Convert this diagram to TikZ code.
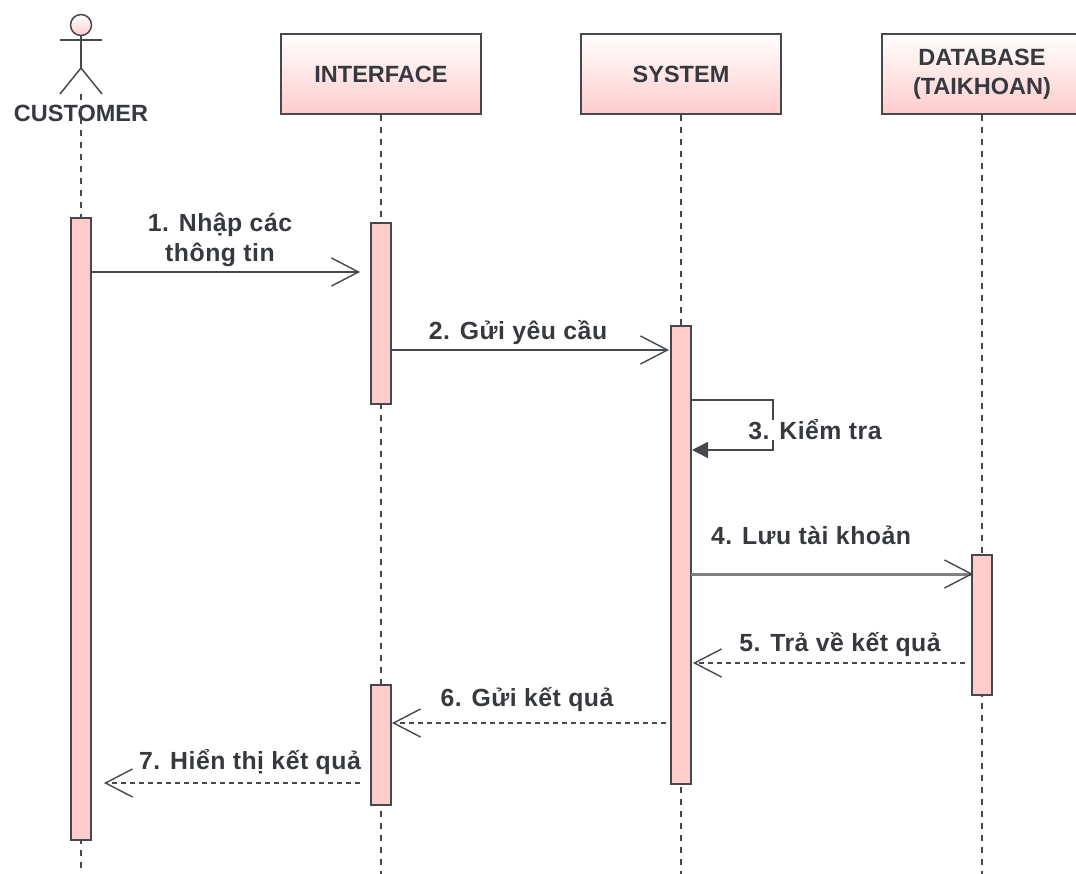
\documentclass[tikz,border=0pt]{standalone}
\usepackage{fontspec}
\setmainfont{Liberation Sans}
\newfontfamily\msgfont[LetterSpace=2]{Liberation Sans}
\usetikzlibrary{arrows.meta}
\definecolor{barpink}{HTML}{FFCCCC}
\definecolor{linegray}{HTML}{45484D}
\definecolor{textgray}{HTML}{36393D}
\tikzset{
	label_text/.style={text=textgray,font=\bfseries\fontsize{23.5}{29}\selectfont,align=center,inner sep=0pt},
	msg_text/.style={text=textgray,font=\msgfont\bfseries\fontsize{24.8}{30}\selectfont,align=center,inner sep=0pt},
	head_box/.style={rectangle,draw=linegray,line width=1.6pt,top color=white,bottom color=barpink,minimum width=200pt,minimum height=80pt,inner sep=0pt,label_text},
	act_bar/.style={rectangle,draw=linegray,line width=1.6pt,fill=barpink,minimum width=20pt,inner sep=0pt},
	life_line/.style={draw=linegray,line width=1.3pt,dash pattern=on 6pt off 6pt},
	msg_call/.style={draw=linegray,line width=1.6pt,-{Straight Barb[length=27pt,width=28pt,line width=1.4pt,color=linegray]}},
	msg_ret/.style={draw=linegray,line width=1.1pt,dash pattern=on 5pt off 4pt,-{Straight Barb[length=27pt,width=28pt,line width=1.4pt]}}
}
\begin{document}
\begin{tikzpicture}[x=1pt,y=-1pt]
		\useasboundingbox (0,0) rectangle (1076,874);
		\clip (0,0) rectangle (1076,874);
%		header boxes
		\path (381,74) node(interface) [head_box] {INTERFACE};
		\path (681,74) node(system) [head_box] {SYSTEM};
		\path (982,74) node(database) [head_box] {DATABASE\\(TAIKHOAN)};
		\path (81,25) node(customer_head) [circle,draw=linegray,line width=1.5pt,top color=white,bottom color=barpink,minimum size=21pt,inner sep=0pt] {};
		\path (81,113) node(customer) [label_text] {CUSTOMER};
%		actor
		\path (81,68) coordinate (hip);
		\path (60,40) coordinate (arm_left);
		\path (102,40) coordinate (arm_right);
		\path (60,94) coordinate (leg_left);
		\path (102,94) coordinate (leg_right);
		\draw[linegray,line width=1.5pt] (customer_head) -- (hip);
		\draw[linegray,line width=1.5pt] (arm_left) -- (arm_right);
		\draw[linegray,line width=1.5pt] (leg_left) -- (hip) -- (leg_right);
%		lifelines
		\path (81,94) coordinate (customer_top);
		\path (81,874) coordinate (customer_end);
		\path (381,874) coordinate (interface_end);
		\path (681,874) coordinate (system_end);
		\path (982,874) coordinate (database_end);
		\draw[life_line] (customer_top) -- (customer_end);
		\draw[life_line] (interface) -- (interface_end);
		\draw[life_line] (system) -- (system_end);
		\draw[life_line] (database) -- (database_end);
%		activation bars
		\path (81,529) node(customer_bar) [act_bar,minimum height=622pt] {};
		\path (381,313.5) node(interface_bar) [act_bar,minimum height=181pt] {};
		\path (381,745) node(interface_bar2) [act_bar,minimum height=120pt] {};
		\path (681,555) node(system_bar) [act_bar,minimum height=458pt] {};
		\path (982,625) node(database_bar) [act_bar,minimum height=140pt] {};
%		end points of the messages
		\path (91,272) coordinate (msg1_left);
		\path (360,272) coordinate (msg1_right);
		\path (391,350) coordinate (msg2_left);
		\path (669,350) coordinate (msg2_right);
		\path (691,400) coordinate (msg3_top);
		\path (773,400) coordinate (msg3_corner);
		\path (773,450) coordinate (msg3_turn);
		\path (692,450) coordinate (msg3_end);
		\path (691,574) coordinate (msg4_left);
		\path (973,574) coordinate (msg4_right);
		\path (965,663) coordinate (msg5_right);
		\path (693,663) coordinate (msg5_left);
		\path (666,723) coordinate (msg6_right);
		\path (392,723) coordinate (msg6_left);
		\path (360,783) coordinate (msg7_right);
		\path (104,783) coordinate (msg7_left);
%		messages
		\draw[msg_call] (msg1_left) -- (msg1_right);
		\draw[msg_call] (msg2_left) -- (msg2_right);
		\draw[draw=linegray,line width=1.5pt,-{Triangle[length=16pt,width=16pt]}] (msg3_top) -- (msg3_corner) -- (msg3_turn) -- (msg3_end);
		\draw[msg_call,draw=gray,line width=3pt] (msg4_left) -- (msg4_right);
		\draw[msg_ret] (msg5_right) -- (msg5_left);
		\draw[msg_ret] (msg6_right) -- (msg6_left);
		\draw[msg_ret] (msg7_right) -- (msg7_left);
%		message labels
		\path (220,240) node(label1) [msg_text] {1. Nhập các\\thông tin};
		\path (518,333) node(label2) [msg_text] {2. Gửi yêu cầu};
		\path (815,430) node(label3) [msg_text,fill=white] {3. Kiểm tra};
		\path (811,535) node(label4) [msg_text] {4. Lưu tài khoản};
		\path (840,645) node(label5) [msg_text] {5. Trả về kết quả};
		\path (527,700) node(label6) [msg_text] {6. Gửi kết quả};
		\path (250,762) node(label7) [msg_text] {7. Hiển thị kết quả};
	\end{tikzpicture}
\end{document}
